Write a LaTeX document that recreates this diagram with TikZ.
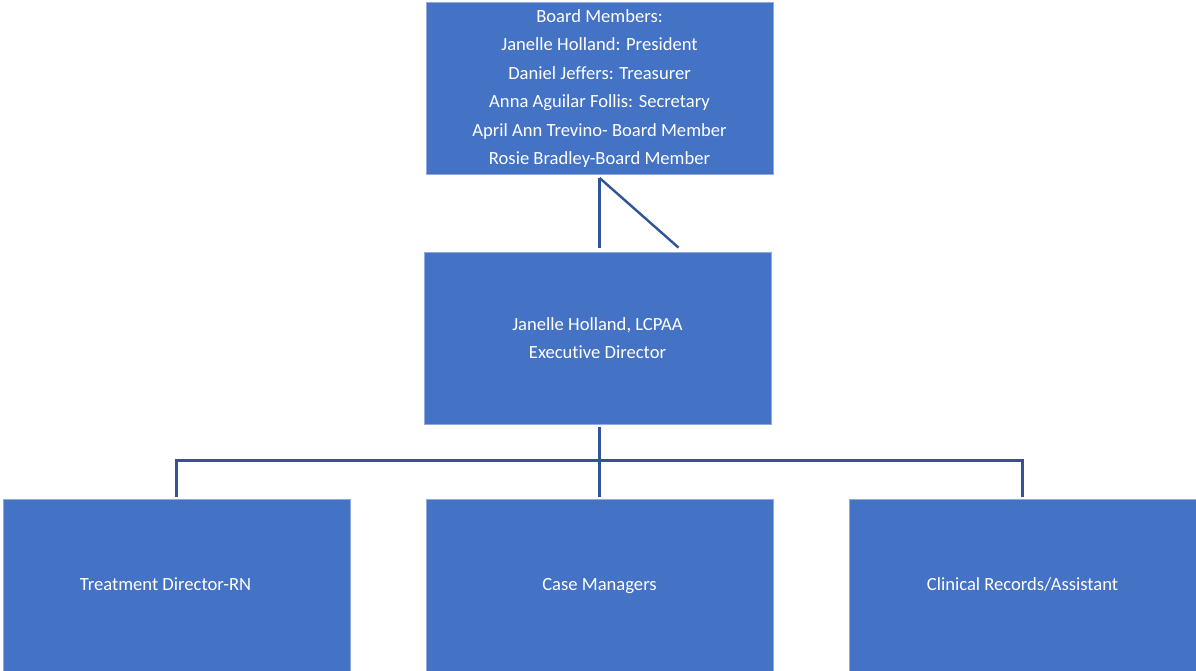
\documentclass[tikz,border=0pt]{standalone}
\usepackage{fontspec}
\setmainfont{Carlito}[Ligatures=NoCommon]
\usetikzlibrary{positioning}

\definecolor{boxblue}{HTML}{4472C4}
\definecolor{boxedge}{HTML}{8FAADC}
\definecolor{linkblue}{HTML}{2F5597}

\begin{document}
\begin{tikzpicture} [x = 1pt, y = -1pt,
	multibox/.style = {draw = boxedge, line width = 0.8pt, fill = boxblue, text = white,
		minimum width = 347pt, minimum height = 172pt, inner sep = 0pt, align = center,
		font = \fontsize{18.6}{28.5}\selectfont},
	box/.style = {multibox, execute at begin node = \strut},
	link/.style = {draw = linkblue, line width = 2.4pt}]
	\useasboundingbox (0,0) rectangle (1196,671);
	\node [multibox] (board) at (599.5,88.5) {Board Members:\\ Janelle Holland: President\\ Daniel Jeffers: Treasurer\\ Anna Aguilar Follis: Secretary\\ April Ann Trevino- Board Member\\ Rosie Bradley-Board Member};
	\node [multibox] (exec) at (597.5,338) {Janelle Holland, LCPAA\\ Executive Director};
	\node [box] (treat) at (176.5,585) {Treatment Director-RN\hspace*{22pt}};
	\node [box] (case) at (599.5,585) {Case Managers};
	\node [box] (records) at (1022.5,585) {Clinical Records/Assistant};
	\draw [link] ([yshift=-3pt]board.south) -- ([xshift=2pt,yshift=4pt]exec.north);
	\draw [link] ([yshift=-3pt]board.south) -- ([xshift=81pt,yshift=4pt]exec.north);
	\draw [link] ([xshift=2pt,yshift=-3pt]exec.south) -- ([yshift=2pt]case.north);
	\draw [link] ([yshift=2pt]treat.north) -- ++(0,-36) -| ([yshift=2pt]records.north);
\end{tikzpicture}
\end{document}
